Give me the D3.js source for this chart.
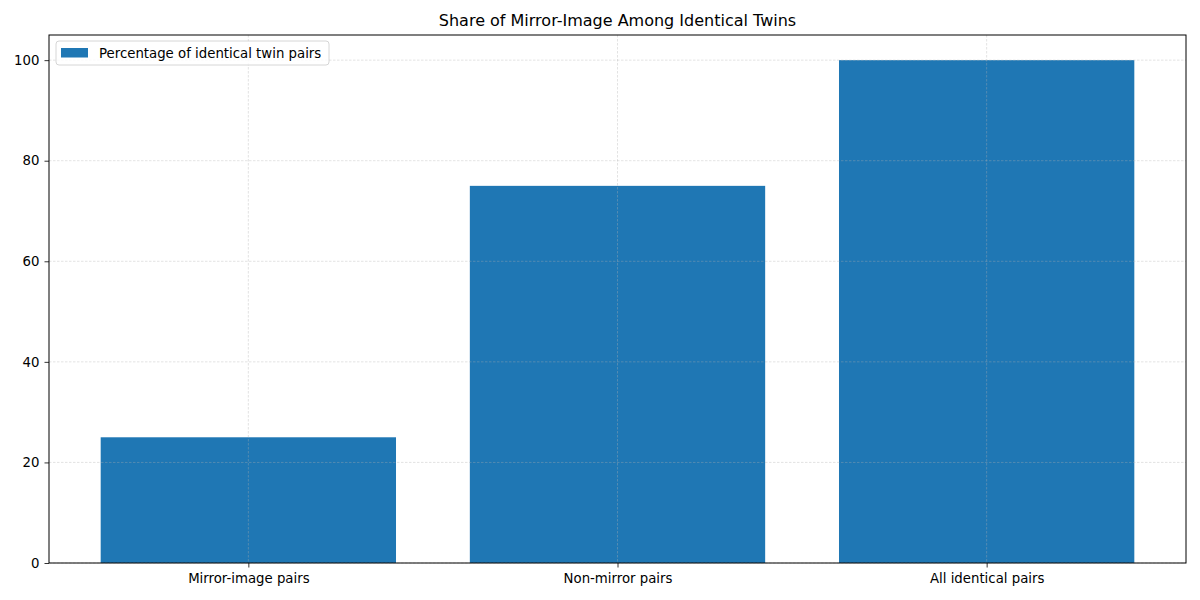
<!DOCTYPE html>
<html>
<head>
<meta charset="utf-8">
<script src="https://cdn.jsdelivr.net/npm/d3@7"></script>
<style>
  body { margin: 0; background: #fff; }
  text { font-family: "DejaVu Sans", sans-serif; fill: #000; }
</style>
</head>
<body>
<div id="chart"></div>
<script>
// chart data
var categories = ["Mirror-image pairs", "Non-mirror pairs", "All identical pairs"];
var percentages = [25, 75, 100];
var yTicks = [0, 20, 40, 60, 80, 100];
var seriesName = "Percentage of identical twin pairs";
var chartTitle = "Share of Mirror-Image Among Identical Twins";

var svgWidth = 1200;
var svgHeight = 600;
var margin = { top: 35, right: 14, bottom: 37, left: 49 };
var width = svgWidth - margin.left - margin.right;
var height = svgHeight - margin.top - margin.bottom;

var svg = d3.select("#chart")
    .append("svg")
    .attr("width", svgWidth)
    .attr("height", svgHeight);

var chartGroup = svg.append("g")
    .attr("transform", "translate(" + margin.left + "," + margin.top + ")");

// scales (mimic matplotlib: bar width 0.8, 5% margins)
var xScale = d3.scaleLinear()
    .domain([-0.54, categories.length - 1 + 0.54])
    .range([0, width]);

var yScale = d3.scaleLinear()
    .domain([0, 105])
    .range([height, 0]);

var barWidth = 0.8;

// bars
chartGroup.selectAll(".bar")
    .data(percentages)
    .enter()
    .append("rect")
    .attr("class", "bar")
    .attr("x", function(d, i) { return xScale(i - barWidth / 2); })
    .attr("width", function(d, i) { return xScale(i + barWidth / 2) - xScale(i - barWidth / 2); })
    .attr("y", function(d) { return yScale(d); })
    .attr("height", function(d) { return height - yScale(d); })
    .attr("fill", "#1f77b4");

// grid on top of bars
var grid = chartGroup.append("g").attr("class", "grid");
grid.selectAll(".hgrid")
    .data(yTicks)
    .enter()
    .append("line")
    .attr("x1", 0)
    .attr("x2", width)
    .attr("y1", function(d) { return yScale(d); })
    .attr("y2", function(d) { return yScale(d); })
    .attr("stroke", "#b0b0b0")
    .attr("stroke-opacity", 0.6)
    .attr("stroke-width", 0.6)
    .attr("stroke-dasharray", "2.5,1.5");
grid.selectAll(".vgrid")
    .data(categories)
    .enter()
    .append("line")
    .attr("x1", function(d, i) { return xScale(i); })
    .attr("x2", function(d, i) { return xScale(i); })
    .attr("y1", 0)
    .attr("y2", height)
    .attr("stroke", "#b0b0b0")
    .attr("stroke-opacity", 0.6)
    .attr("stroke-width", 0.6)
    .attr("stroke-dasharray", "2.5,1.5");

// axes
var bottomAxis = d3.axisBottom(xScale)
    .tickValues(d3.range(categories.length))
    .tickFormat(function(d) { return categories[d]; })
    .tickSize(4.5)
    .tickPadding(6.5);
var leftAxis = d3.axisLeft(yScale)
    .tickValues(yTicks)
    .tickSize(4.5)
    .tickPadding(5);

var xAxisG = chartGroup.append("g")
    .attr("transform", "translate(0," + height + ")")
    .call(bottomAxis);
var yAxisG = chartGroup.append("g")
    .call(leftAxis);

[xAxisG, yAxisG].forEach(function(g) {
    g.select(".domain").remove();
    g.selectAll(".tick line").attr("stroke", "#000").attr("stroke-width", 0.8);
    g.selectAll(".tick text")
        .style("font-family", "DejaVu Sans, sans-serif")
        .style("font-size", "13.3px")
        .attr("fill", "#000");
});

// frame
chartGroup.append("rect")
    .attr("x", 0)
    .attr("y", 0)
    .attr("width", width)
    .attr("height", height)
    .attr("fill", "none")
    .attr("stroke", "#000")
    .attr("stroke-width", 1);

// title
svg.append("text")
    .attr("x", margin.left + width / 2)
    .attr("y", 26)
    .attr("text-anchor", "middle")
    .style("font-size", "16px")
    .text(chartTitle);

// legend
var legend = chartGroup.append("g")
    .attr("transform", "translate(7,6)");
legend.append("rect")
    .attr("width", 273)
    .attr("height", 24)
    .attr("rx", 3)
    .attr("fill", "#fff")
    .attr("fill-opacity", 0.8)
    .attr("stroke", "#cccccc")
    .attr("stroke-width", 0.8);
legend.append("rect")
    .attr("x", 5)
    .attr("y", 7)
    .attr("width", 27)
    .attr("height", 9.5)
    .attr("fill", "#1f77b4");
legend.append("text")
    .attr("x", 43)
    .attr("y", 16.5)
    .style("font-size", "13.3px")
    .text(seriesName);
</script>
</body>
</html>
